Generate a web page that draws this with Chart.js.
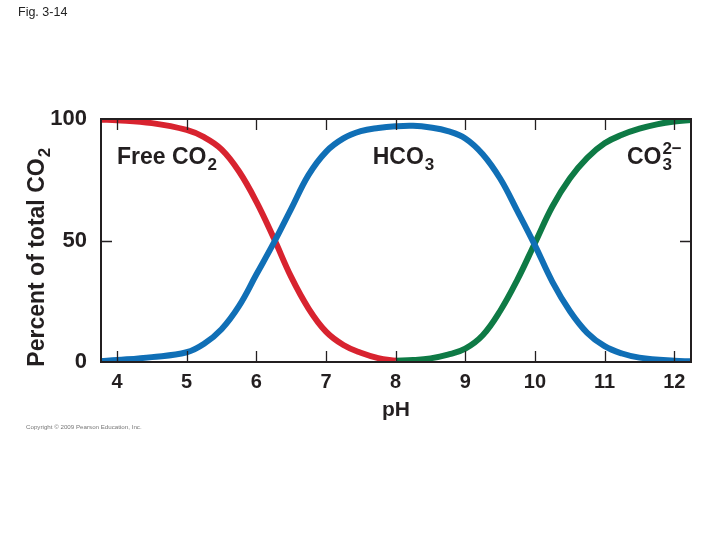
<!DOCTYPE html>
<html>
<head>
<meta charset="utf-8">
<script src="https://cdn.jsdelivr.net/npm/chart.js@4.4.1/dist/chart.umd.min.js"></script>
<style>
  body { margin: 0; background: #fff; }
  #wrap { position: relative; width: 720px; height: 540px; }
  #fig { position: absolute; left: 18px; top: 5px; font: 12.5px "Liberation Sans", Arial, sans-serif; color: #222; }
  #copy { position: absolute; left: 26px; top: 423px; font: 6.2px "Liberation Sans", Arial, sans-serif; color: #777; }
</style>
</head>
<body>
<div id="wrap">
  <canvas id="chart" width="720" height="540"></canvas>
  <div id="fig">Fig. 3-14</div>
  <div id="copy">Copyright © 2009 Pearson Education, Inc.</div>
</div>
<script>
// values (percent of total CO2 vs pH)
const phRed = [3.77, 4, 4.5, 5, 5.25, 5.5, 5.75, 6, 6.25, 6.5, 6.75, 7, 7.25, 7.5, 7.75, 8];
const freeCO2 = [99.7, 99.5, 98.3, 95.5, 92.5, 87.5, 78.5, 66, 51, 35, 22, 12.5, 7, 3.8, 1.6, 0.5];

const phBlue = [3.77, 4, 4.5, 5, 5.25, 5.5, 5.75, 6, 6.25, 6.5, 6.75, 7, 7.25, 7.5, 7.75, 8, 8.25, 8.5, 8.75, 9,
                9.25, 9.5, 9.75, 10, 10.25, 10.5, 10.75, 11, 11.25, 11.5, 12, 12.24];
const hco3 = [0.4, 0.8, 2, 4, 7.5, 13.5, 23, 36, 49, 63, 77, 86.5, 92, 95, 96.3, 97, 97.2, 96.5, 95, 92,
              85.5, 75.5, 62, 48, 33, 21, 12, 6.5, 3.5, 1.8, 0.5, 0.3];

const phGreen = [8, 8.25, 8.5, 8.75, 9, 9.25, 9.5, 9.75, 10, 10.25, 10.5, 10.75, 11, 11.25, 11.5, 11.75, 12, 12.24];
const co3 = [0.5, 0.8, 1.5, 3, 5.5, 11, 21, 34, 49, 64, 75.5, 84, 90, 93.5, 96, 97.8, 99, 99.6];

const xTicks = [4, 5, 6, 7, 8, 9, 10, 11, 12];
const yTicks = [0, 50, 100];

// curve labels: [x (pH), y (%), main text, subscript, superscript]
const curveLabels = [
  [4.0, 81.5, 'Free CO', '2', ''],
  [7.67, 81.5, 'HCO', '3', ''],
  [11.32, 81.5, 'CO', '3', '2\u2212']
];

const ink = '#231f20';
const boldFont = '"Liberation Sans", Arial, sans-serif';

function pts(xs, ys) {
  return xs.map((x, i) => ({ x: x, y: ys[i] }));
}

const framePlugin = {
  id: 'frame',
  afterDatasetsDraw(chart) {
    const c = chart.ctx;
    const a = chart.chartArea;
    const xs = chart.scales.x, ys = chart.scales.y;
    c.save();
    c.strokeStyle = ink;
    c.lineWidth = 2;
    c.strokeRect(a.left, a.top, a.right - a.left, a.bottom - a.top);
    c.lineWidth = 1.3;
    c.beginPath();
    xTicks.forEach(v => {
      const px = Math.round(xs.getPixelForValue(v)) + 0.5;
      c.moveTo(px, a.bottom); c.lineTo(px, a.bottom - 11);
      c.moveTo(px, a.top); c.lineTo(px, a.top + 11);
    });
    const py = Math.round(ys.getPixelForValue(50)) + 0.5;
    c.moveTo(a.left, py); c.lineTo(a.left + 11, py);
    c.moveTo(a.right, py); c.lineTo(a.right - 11, py);
    c.stroke();

    // curve labels with sub/superscripts
    c.fillStyle = ink;
    c.textBaseline = 'alphabetic';
    c.textAlign = 'left';
    curveLabels.forEach(l => {
      const x = xs.getPixelForValue(l[0]);
      const y = ys.getPixelForValue(l[1]);
      c.font = 'bold 23px ' + boldFont;
      c.fillText(l[2], x, y);
      const w = c.measureText(l[2]).width;
      c.font = 'bold 17px ' + boldFont;
      c.fillText(l[3], x + w + 1, y + 6);
      if (l[4]) c.fillText(l[4], x + w + 1, y - 10);
    });

    // y axis title, rotated, with subscript
    c.save();
    c.translate(44, ys.getPixelForValue(50) + 17);
    c.rotate(-Math.PI / 2);
    c.textAlign = 'center';
    c.font = 'bold 23px ' + boldFont;
    const t = 'Percent of total CO';
    const tw = c.measureText(t).width;
    c.fillText(t, -5, 0);
    c.textAlign = 'left';
    c.font = 'bold 17px ' + boldFont;
    c.fillText('2', -5 + tw / 2 + 1, 6);
    c.restore();
    c.restore();
  }
};

new Chart(document.getElementById('chart'), {
  type: 'line',
  data: {
    datasets: [
      { label: 'HCO3', data: pts(phBlue, hco3), borderColor: '#106fb6' },
      { label: 'Free CO2', data: pts(phRed, freeCO2), borderColor: '#d8232f' },
      { label: 'CO3', data: pts(phGreen, co3), borderColor: '#0e7a45' }
    ]
  },
  options: {
    responsive: false,
    animation: false,
    layout: { padding: { top: 119, right: 29, left: 0, bottom: 117 } },
    elements: {
      line: { borderWidth: 6, tension: 0.4, fill: false, capBezierPoints: true },
      point: { radius: 0 }
    },
    scales: {
      x: {
        type: 'linear',
        min: 3.77,
        max: 12.24,
        afterBuildTicks: s => { s.ticks = xTicks.map(v => ({ value: v })); },
        afterFit: s => { s.height = 61; },
        border: { display: false },
        grid: { display: false },
        ticks: { color: ink, padding: 0, font: { family: boldFont, size: 20, weight: 'bold' } },
        title: { display: true, text: 'pH', color: ink, padding: { top: 0, bottom: 0 }, font: { family: boldFont, size: 21, weight: 'bold' } }
      },
      y: {
        min: 0,
        max: 100,
        afterBuildTicks: s => { s.ticks = yTicks.map(v => ({ value: v })); },
        afterFit: s => { s.width = 101; },
        border: { display: false },
        grid: { display: false },
        ticks: { color: ink, padding: 6, font: { family: boldFont, size: 22, weight: 'bold' } }
      }
    },
    plugins: { legend: { display: false }, tooltip: { enabled: false } }
  },
  plugins: [framePlugin]
});
</script>
</body>
</html>
